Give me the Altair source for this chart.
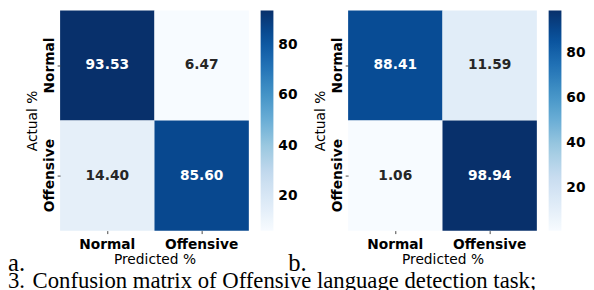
import altair as alt
import pandas as pd

classes = ["Normal", "Offensive"]
actual = ["Normal", "Normal", "Offensive", "Offensive"]
predicted = ["Normal", "Offensive", "Normal", "Offensive"]
values_a = [93.53, 6.47, 14.40, 85.60]
values_b = [88.41, 11.59, 1.06, 98.94]
colorbar_ticks = [20, 40, 60, 80]
panel_tags = ["a.", "b."]
caption_number = ["3."]
caption_text = ["Confusion matrix of Offensive language detection task;"]
blues = ["#f7fbff", "#deebf7", "#c6dbef", "#9ecae1", "#6baed6",
         "#4292c6", "#2171b5", "#08519c", "#08306b"]

W, H = 192, 224
SANS = "DejaVu Sans"
SERIF = "Liberation Serif"


def serif_text(txt, xpos, ypos, size):
    return alt.Chart(pd.DataFrame({"t": [txt]})).mark_text(
        font=SERIF, fontSize=size, align="left", baseline="alphabetic", color="black"
    ).encode(text="t:N", x=alt.value(xpos), y=alt.value(ypos))


def panel(values, tag, tag_x, extras):
    df = pd.DataFrame({"actual": actual, "predicted": predicted, "value": values})
    lo, hi = min(values), max(values)
    n = len(blues) - 1
    stops = [lo + (hi - lo) * i / n for i in range(n + 1)]

    x = alt.X(
        "predicted:N",
        scale=alt.Scale(domain=classes, paddingInner=0, paddingOuter=0),
        axis=alt.Axis(
            title="Predicted %", labelAngle=0, labelFont=SANS, labelFontSize=14,
            labelFontWeight="bold", labelColor="black", labelBaseline="alphabetic",
            labelPadding=15.5, tickSize=3, tickColor="#444", tickWidth=1,
            titleFont=SANS, titleFontSize=14, titleFontWeight="normal",
            titleColor="black", titleBaseline="alphabetic", titleY=33,
        ),
    )
    y = alt.Y(
        "actual:N",
        scale=alt.Scale(domain=classes, paddingInner=0, paddingOuter=0),
        axis=alt.Axis(
            title="Actual %", labelAngle=270, labelAlign="center",
            labelBaseline="alphabetic", labelFont=SANS, labelFontSize=14,
            labelFontWeight="bold", labelColor="black", labelPadding=4,
            tickSize=3, tickColor="#444", tickWidth=1,
            titleFont=SANS, titleFontSize=14, titleFontWeight="normal",
            titleColor="black", titleAngle=270, titleBaseline="alphabetic",
            titleAlign="center", titleX=-24.5,
        ),
    )
    base = alt.Chart(df)
    rect = base.mark_rect().encode(
        x=x,
        y=y,
        color=alt.Color(
            "value:Q",
            title=None,
            scale=alt.Scale(domain=stops, range=blues, interpolate="rgb"),
            legend=alt.Legend(
                type="gradient", direction="vertical", orient="right",
                values=colorbar_ticks, gradientLength=H, gradientThickness=13,
                gradientStrokeWidth=0, offset=12, padding=0,
                labelFont=SANS, labelFontSize=14, labelFontWeight="bold",
                labelColor="black", labelOffset=5,
            ),
        ),
    )
    text = base.mark_text(font=SANS, fontSize=14, fontWeight="bold").encode(
        x=alt.X("predicted:N"),
        y=alt.Y("actual:N"),
        text=alt.Text("value:Q", format=".2f"),
        color=alt.condition(alt.datum.value > 50, alt.value("white"), alt.value("#262626")),
    )
    layers = [rect, text, serif_text(tag, tag_x, 265, 25)] + extras
    return alt.layer(*layers).properties(width=W, height=H)


left = panel(values_a, panel_tags[0], -53, [])
right = panel(
    values_b, panel_tags[1], -61,
    [serif_text(caption_number[0], -346, 282, 23.1),
     serif_text(caption_text[0], -321, 282, 23.1)],
)

chart = (
    alt.hconcat(left, right, spacing=101, bounds="flush")
    .resolve_scale(color="independent")
    .resolve_legend(color="independent")
    .properties(padding=0)
    .configure_view(stroke=None)
    .configure_axis(grid=False, domain=False)
)

chart.save("out.html", embed_options={"renderer": "svg", "actions": False})
